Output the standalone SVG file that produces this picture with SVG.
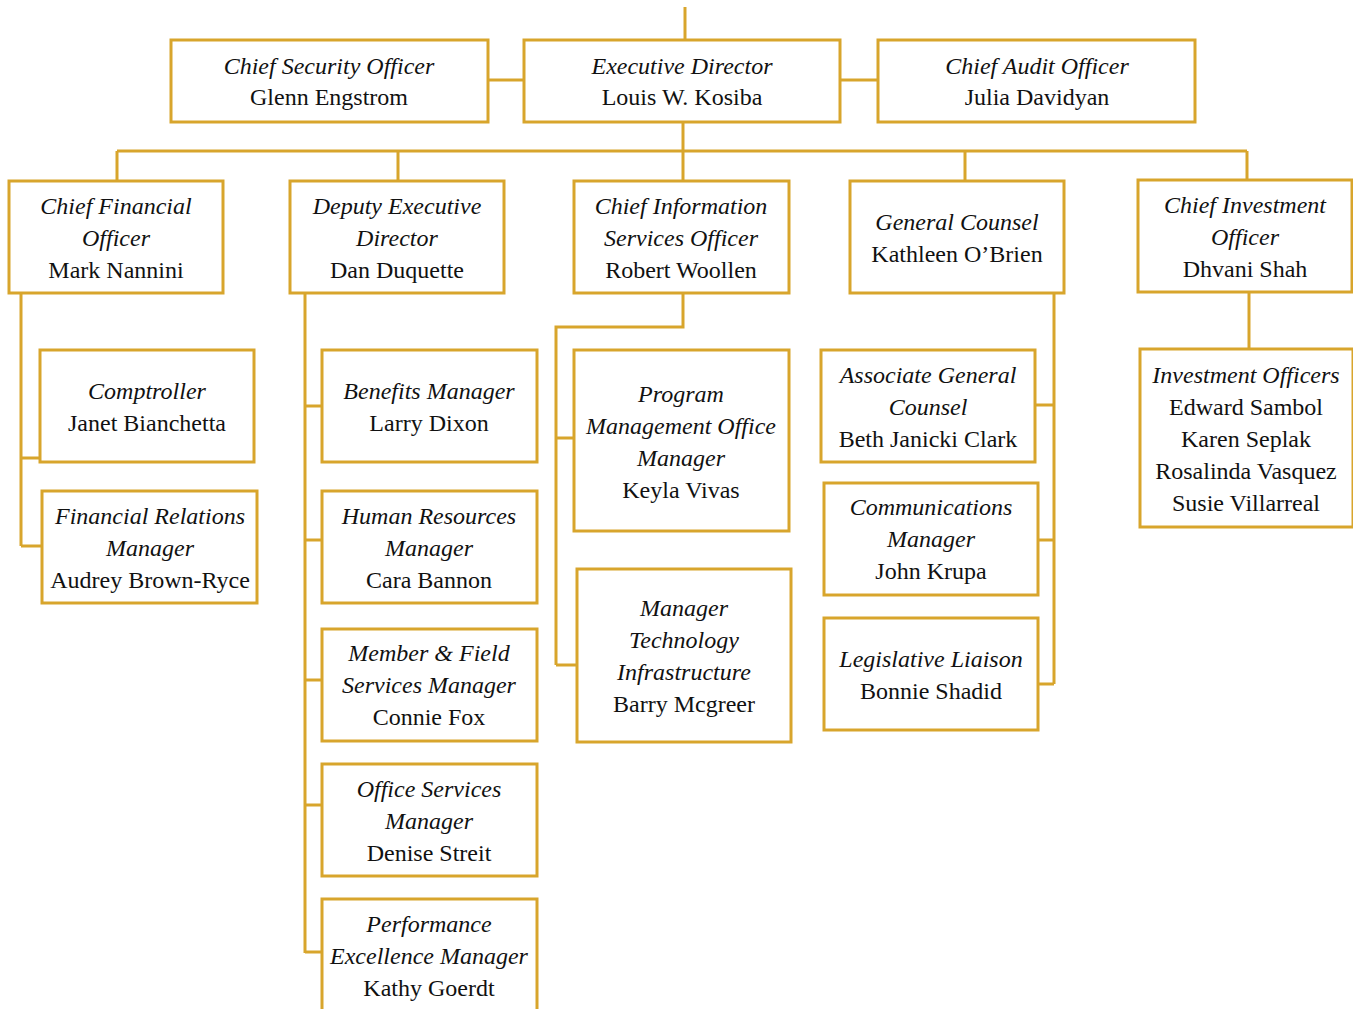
<svg xmlns="http://www.w3.org/2000/svg" width="1353" height="1009" viewBox="0 0 1353 1009">
<style>
.b{fill:#fff;stroke:#D8A52C;stroke-width:3}
.c{fill:none;stroke:#D8A52C;stroke-width:3}
text{font-family:"Liberation Serif","Times New Roman",serif;font-size:24px;fill:#111;text-anchor:middle}
.i{font-style:italic}
</style>
<rect width="1353" height="1009" fill="#fff"/>
<g id="connectors" class="c">
<path d="M685,7V40"/>
<path d="M488,80H524"/>
<path d="M840,80H878"/>
<path d="M683,122V151"/>
<path d="M117,151H1247"/>
<path d="M117,151V181M398,151V181M683,151V181M965,151V181M1247,151V180"/>
<path d="M21,293V546M21,458H40M21,546H42"/>
<path d="M305,293V953M305,406H322M305,540H322M305,680H322M305,805H322M305,952H322"/>
<path d="M683,293V327H556V665M556,438H574M556,665H577"/>
<path d="M1054,293V684M1035,405H1054M1038,540H1054M1038,684H1054"/>
<path d="M1249,292V349"/>
</g>
<g id="cso"><rect class="b" x="171" y="40" width="317" height="82"/><text class="i" x="329" y="74">Chief Security Officer</text><text x="329" y="105">Glenn Engstrom</text></g>
<g id="ed"><rect class="b" x="524" y="40" width="316" height="82"/><text class="i" x="682" y="74">Executive Director</text><text x="682" y="105">Louis W. Kosiba</text></g>
<g id="cao"><rect class="b" x="878" y="40" width="317" height="82"/><text class="i" x="1037" y="74">Chief Audit Officer</text><text x="1037" y="105">Julia Davidyan</text></g>
<g id="cfo"><rect class="b" x="9" y="181" width="214" height="112"/><text class="i" x="116" y="214">Chief Financial</text><text class="i" x="116" y="246">Officer</text><text x="116" y="278">Mark Nannini</text></g>
<g id="ded"><rect class="b" x="290" y="181" width="214" height="112"/><text class="i" x="397" y="214">Deputy Executive</text><text class="i" x="397" y="246">Director</text><text x="397" y="278">Dan Duquette</text></g>
<g id="ciso"><rect class="b" x="574" y="181" width="215" height="112"/><text class="i" x="681" y="214">Chief Information</text><text class="i" x="681" y="246">Services Officer</text><text x="681" y="278">Robert Woollen</text></g>
<g id="gc"><rect class="b" x="850" y="181" width="214" height="112"/><text class="i" x="957" y="230">General Counsel</text><text x="957" y="262">Kathleen O’Brien</text></g>
<g id="cio"><rect class="b" x="1138" y="180" width="214" height="112"/><text class="i" x="1245" y="213">Chief Investment</text><text class="i" x="1245" y="245">Officer</text><text x="1245" y="277">Dhvani Shah</text></g>
<g id="comptroller"><rect class="b" x="40" y="350" width="214" height="112"/><text class="i" x="147" y="399">Comptroller</text><text x="147" y="431">Janet Bianchetta</text></g>
<g id="finrel"><rect class="b" x="42" y="491" width="215" height="112"/><text class="i" x="150" y="524">Financial Relations</text><text class="i" x="150" y="556">Manager</text><text x="150" y="588">Audrey Brown-Ryce</text></g>
<g id="benefits"><rect class="b" x="322" y="350" width="215" height="112"/><text class="i" x="429" y="399">Benefits Manager</text><text x="429" y="431">Larry Dixon</text></g>
<g id="hr"><rect class="b" x="322" y="491" width="215" height="112"/><text class="i" x="429" y="524">Human Resources</text><text class="i" x="429" y="556">Manager</text><text x="429" y="588">Cara Bannon</text></g>
<g id="mfs"><rect class="b" x="322" y="629" width="215" height="112"/><text class="i" x="429" y="661">Member &amp; Field</text><text class="i" x="429" y="693">Services Manager</text><text x="429" y="725">Connie Fox</text></g>
<g id="office"><rect class="b" x="322" y="764" width="215" height="112"/><text class="i" x="429" y="797">Office Services</text><text class="i" x="429" y="829">Manager</text><text x="429" y="861">Denise Streit</text></g>
<g id="perf"><rect class="b" x="322" y="899" width="215" height="120"/><text class="i" x="429" y="932">Performance</text><text class="i" x="429" y="964">Excellence Manager</text><text x="429" y="996">Kathy Goerdt</text></g>
<g id="pmo"><rect class="b" x="574" y="350" width="215" height="181"/><text class="i" x="681" y="402">Program</text><text class="i" x="681" y="434">Management Office</text><text class="i" x="681" y="466">Manager</text><text x="681" y="498">Keyla Vivas</text></g>
<g id="mti"><rect class="b" x="577" y="569" width="214" height="173"/><text class="i" x="684" y="616">Manager</text><text class="i" x="684" y="648">Technology</text><text class="i" x="684" y="680">Infrastructure</text><text x="684" y="712">Barry Mcgreer</text></g>
<g id="agc"><rect class="b" x="821" y="350" width="214" height="112"/><text class="i" x="928" y="383">Associate General</text><text class="i" x="928" y="415">Counsel</text><text x="928" y="447">Beth Janicki Clark</text></g>
<g id="comm"><rect class="b" x="824" y="483" width="214" height="112"/><text class="i" x="931" y="515">Communications</text><text class="i" x="931" y="547">Manager</text><text x="931" y="579">John Krupa</text></g>
<g id="leg"><rect class="b" x="824" y="618" width="214" height="112"/><text class="i" x="931" y="667">Legislative Liaison</text><text x="931" y="699">Bonnie Shadid</text></g>
<g id="invoff"><rect class="b" x="1140" y="349" width="213" height="178"/><text class="i" x="1246" y="383">Investment Officers</text><text x="1246" y="415">Edward Sambol</text><text x="1246" y="447">Karen Seplak</text><text x="1246" y="479">Rosalinda Vasquez</text><text x="1246" y="511">Susie Villarreal</text></g>
</svg>
